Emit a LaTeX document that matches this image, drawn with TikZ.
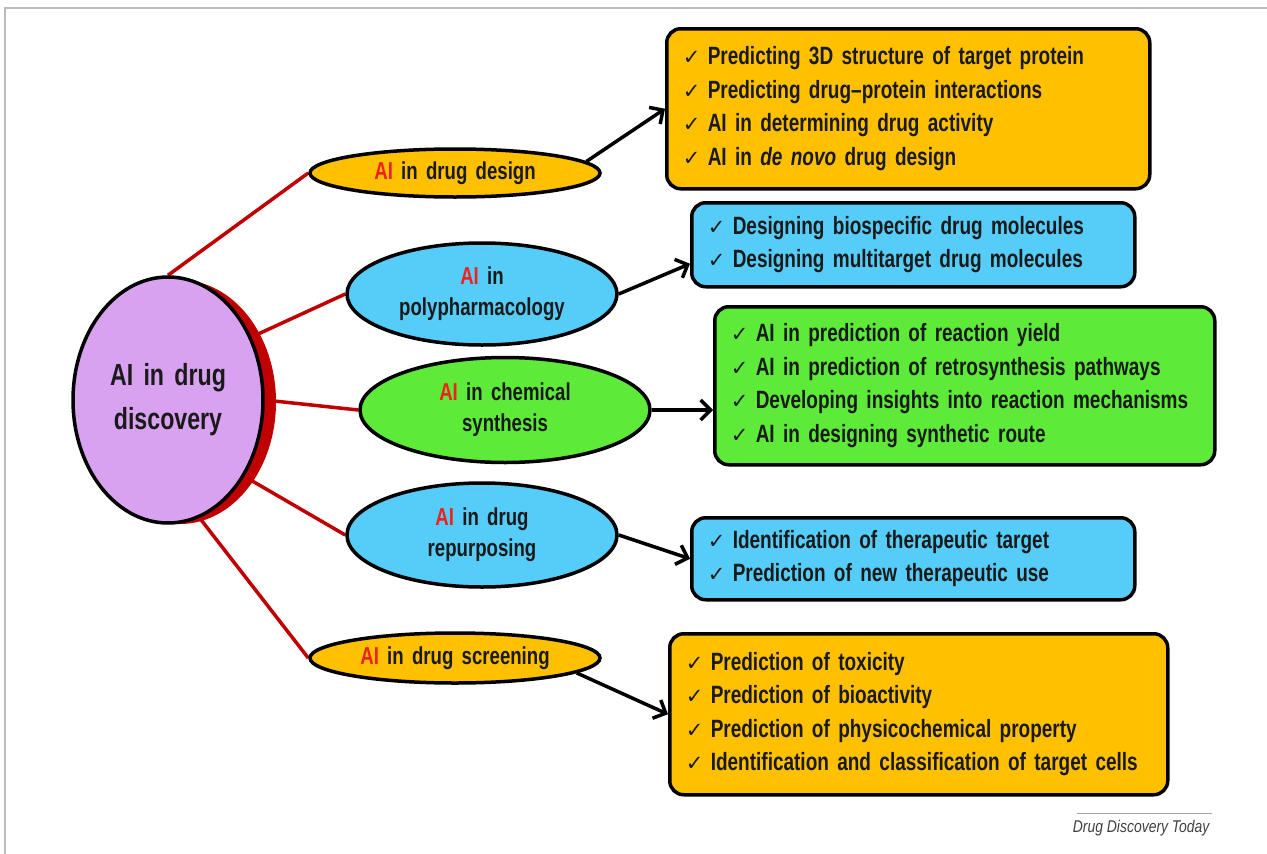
\documentclass[tikz,border=0pt]{standalone}
\usepackage{fontspec}
\setmainfont[FakeStretch=0.76,WordSpace=1.6]{Liberation Sans}
\newfontfamily\srcfont[FakeStretch=0.82]{Liberation Sans}
\newfontfamily\symfont{DejaVu Sans}
\usetikzlibrary{shapes.geometric,arrows.meta,backgrounds,calc}
\definecolor{orng}{HTML}{FFC000}
\definecolor{skyb}{HTML}{55CDF8}
\definecolor{grn}{HTML}{5EEA38}
\definecolor{lav}{HTML}{D9A2F0}
\definecolor{dred}{HTML}{C00000}
\definecolor{aired}{HTML}{EE2020}
\definecolor{txt}{HTML}{1A1A1A}
\definecolor{frame}{HTML}{BBBBBB}
\newcommand\ai{{\color{aired}AI}}
\newcommand\chk{\makebox[25pt][l]{\symfont\fontsize{21}{21}\selectfont ✓}}
\begin{document}
\begin{tikzpicture}[x=1pt,y=-1pt,
  subell/.style={ellipse, draw=black, line width=3.5pt, inner sep=0pt, align=center, text=txt,
     font=\bfseries\fontsize{24.5}{31}\selectfont},
  listbox/.style={rectangle, draw=black, line width=3.5pt, rounded corners=14pt, align=left,
     inner xsep=16pt, inner ysep=0pt, text=txt, font=\bfseries\fontsize{25}{33.5}\selectfont},
  redline/.style={draw=dred, line width=3.5pt},
  blkarrow/.style={draw=black, line width=3.5pt, -{Straight Barb[length=10pt,width=20pt,line width=3.5pt]}}]
\useasboundingbox (0,0) rectangle (1267,854);
\draw[frame, line width=2pt] (5,854) -- (5,8) -- (1267,8);

% central ellipse with shadow
\fill[dred] (180,402) ellipse [x radius=96pt, y radius=122pt];
\node[ellipse, draw=black, line width=3.5pt, fill=lav, minimum width=190pt, minimum height=246pt,
  inner sep=0pt, align=center, text=txt, font=\bfseries\fontsize{30.5}{44}\selectfont]
  (main) at (168,400) {AI in drug\\discovery};

% sub ellipses
\node[subell, fill=orng, minimum width=290pt, minimum height=48pt] (e1) at (455,173) {\ai{} in drug design};
\node[subell, fill=skyb, minimum width=270pt, minimum height=102pt] (e2) at (482,294) {\ai{} in\\polypharmacology};
\node[subell, fill=grn, minimum width=290pt, minimum height=105pt] (e3) at (505,410) {\ai{} in chemical\\synthesis};
\node[subell, fill=skyb, minimum width=270pt, minimum height=104pt] (e4) at (482,535) {\ai{} in drug\\repurposing};
\node[subell, fill=orng, minimum width=290pt, minimum height=50pt] (e5) at (455,658) {\ai{} in drug screening};

% list boxes
\node[listbox, fill=orng, anchor=north west, text width=451pt, minimum height=160pt] (A) at (665,27)
 {\chk Predicting 3D structure of target protein\\
  \chk Predicting drug–protein interactions\\
  \chk AI in determining drug activity\\
  \chk AI in \textit{de novo} drug design};
\node[listbox, fill=skyb, anchor=north west, text width=411pt, minimum height=84pt] (B) at (690,201)
 {\chk Designing biospecific drug molecules\\
  \chk Designing multitarget drug molecules};
\node[listbox, fill=grn, anchor=north west, text width=468pt, minimum height=158pt] (C) at (713,305)
 {\chk AI in prediction of reaction yield\\
  \chk AI in prediction of retrosynthesis pathways\\
  \chk Developing insights into reaction mechanisms\\
  \chk AI in designing synthetic route};
\node[listbox, fill=skyb, anchor=north west, text width=411pt, minimum height=82pt] (D) at (690,516)
 {\chk Identification of therapeutic target\\
  \chk Prediction of new therapeutic use};
\node[listbox, fill=orng, anchor=north west, text width=466pt, minimum height=161pt] (E) at (668,632)
 {\chk Prediction of toxicity\\
  \chk Prediction of bioactivity\\
  \chk Prediction of physicochemical property\\
  \chk Identification and classification of target cells};

% red connectors behind
\begin{pgfonlayer}{background}
\draw[redline] (main.north) -- (e1.west);
\draw[redline] (main.37) -- (e2.west);
\draw[redline] (main.east) -- (e3.west);
\draw[redline] (main.-45) -- (e4.west);
\draw[redline] (main.-75) -- (e5.west);
\end{pgfonlayer}

% black arrows
\draw[blkarrow] (e1.5) -- (A.west);
\draw[blkarrow] (e2.east) -- ($(B.west)+(0,19)$);
\draw[blkarrow] (e3.east) -- (e3.east -| C.west);
\draw[blkarrow] (e4.east) -- (D.west);
\draw[blkarrow] (e5.-7) -- (E.west);

% source
\draw[gray!70, line width=1pt] (1077,813) -- (1212,813);
\node[anchor=east, text=black!75, font=\srcfont\itshape\fontsize{17}{19}\selectfont] (src) at (1213,828) {Drug Discovery Today};
\end{tikzpicture}
\end{document}
